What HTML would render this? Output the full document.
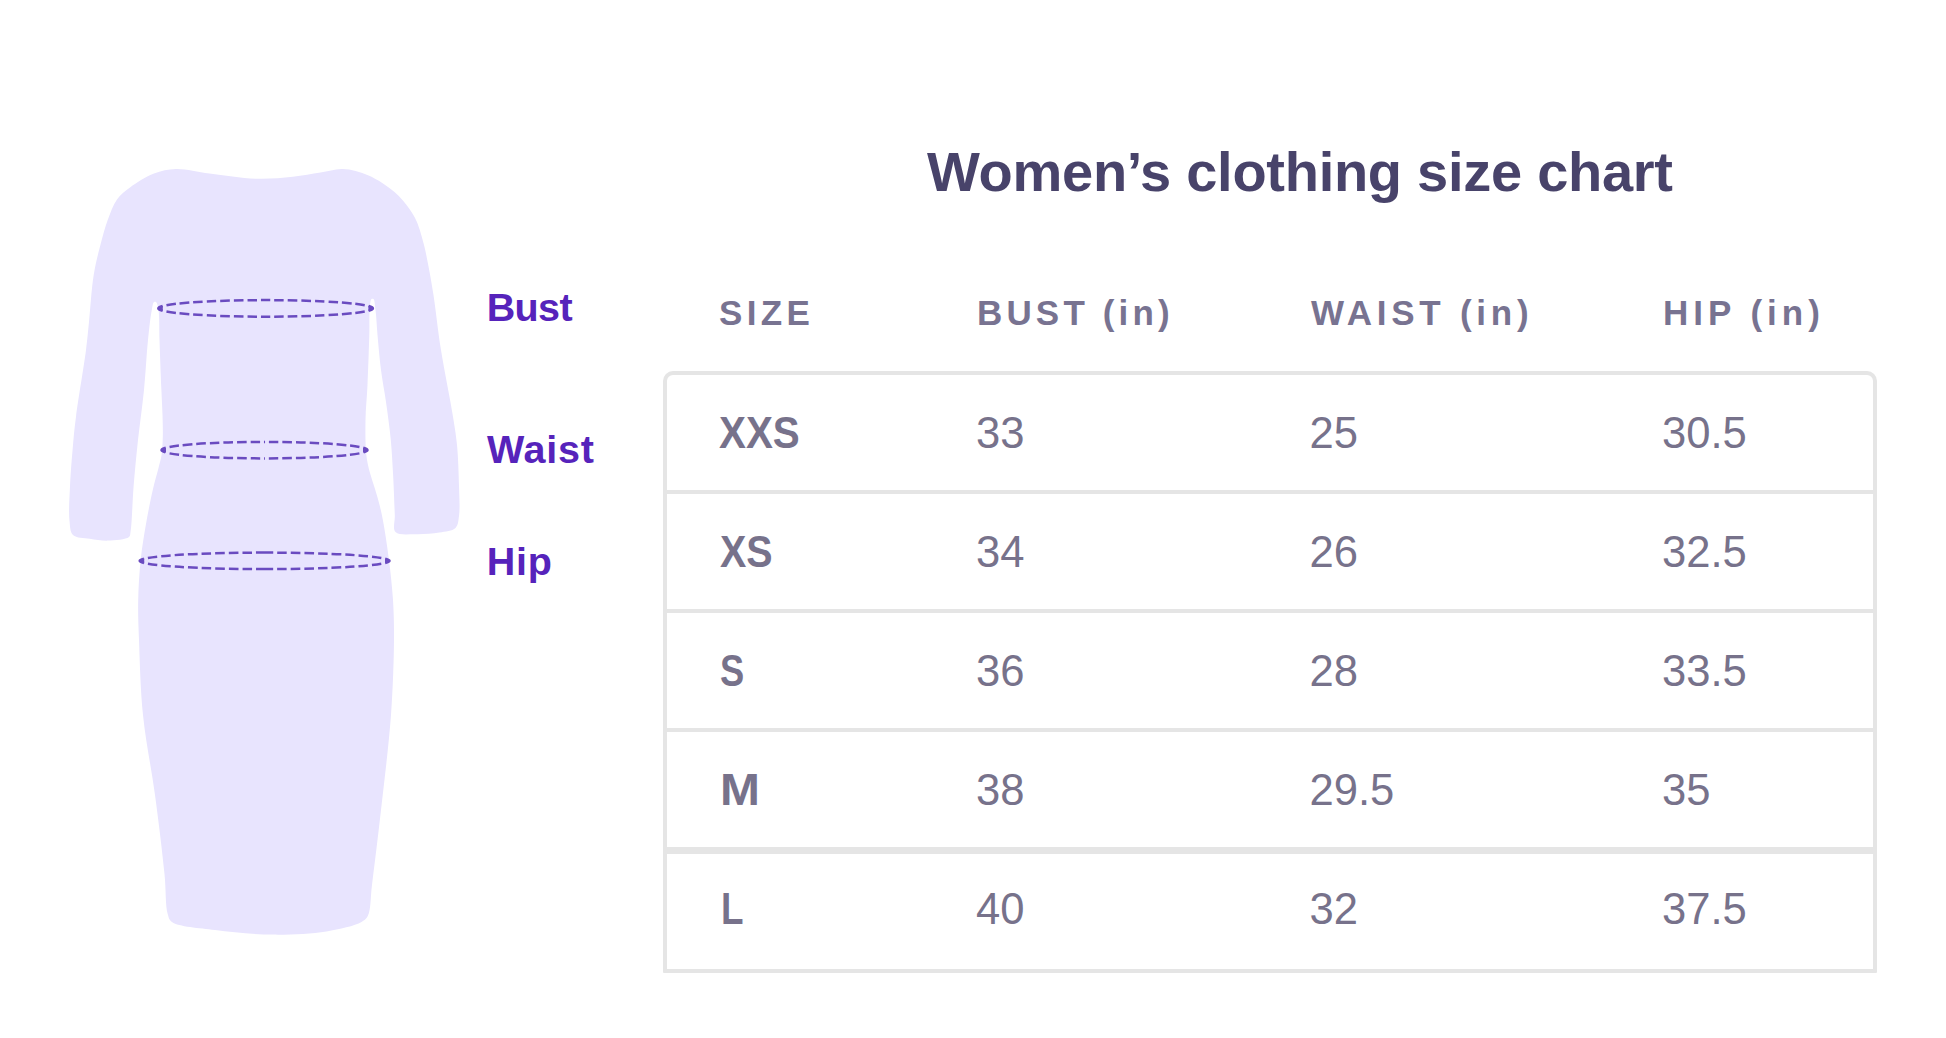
<!DOCTYPE html>
<html><head><meta charset="utf-8">
<style>
html,body{margin:0;padding:0;background:#fff;}
body{width:1946px;height:1038px;position:relative;overflow:hidden;font-family:"Liberation Sans",sans-serif;}
.t{position:absolute;white-space:nowrap;line-height:1;}
.title{font-size:56px;font-weight:bold;color:#48436a;letter-spacing:-0.27px;}
.hd{font-size:35px;font-weight:bold;color:#787391;letter-spacing:4px;}
.lb{font-size:39.5px;font-weight:bold;color:#5623bb;}
.c0{font-size:43.6px;font-weight:bold;color:#77728b;transform-origin:0 0;}
.cv{font-size:43.6px;font-weight:normal;color:#77728b;}
.box{position:absolute;left:663px;top:371px;width:1206px;height:594px;border:4px solid #e5e5e5;border-radius:10px 10px 1px 1px;}
.sep{position:absolute;left:667px;width:1206px;height:4px;background:#e5e5e5;}
svg{position:absolute;left:0;top:0;}
</style></head><body>
<svg width="600" height="1038" viewBox="0 0 600 1038">
<path d="M176.0,169.0 C186.0,168.7 197.4,172.0 209.5,173.5 C223.7,175.2 241.2,178.3 255.8,178.7 C268.8,179.1 281.4,178.0 292.8,176.8 C302.7,175.8 311.8,174.0 320.5,172.6 C328.3,171.4 335.0,168.7 342.7,169.0 C351.0,169.3 360.3,171.8 368.6,175.4 C377.6,179.3 387.4,185.9 394.5,192.0 C400.5,197.2 405.4,203.3 409.3,208.7 C412.5,213.1 414.5,216.5 416.7,221.6 C419.5,228.1 422.1,237.8 424.0,245.0 C425.6,251.0 426.3,255.3 427.6,261.8 C429.4,270.9 431.5,282.1 433.4,294.5 C435.9,310.5 437.9,330.7 441.0,350.0 C444.4,371.2 450.2,399.1 453.0,416.7 C454.8,428.1 456.0,434.7 457.0,445.0 C458.2,457.4 458.7,473.4 459.0,486.0 C459.3,496.8 460.1,508.3 459.0,516.0 C458.3,520.9 458.3,525.2 455.5,527.9 C452.3,531.1 445.3,531.4 439.4,532.5 C432.4,533.7 423.7,534.3 416.2,534.2 C409.1,534.1 398.9,535.6 395.5,532.0 C392.4,528.7 395.1,521.9 394.8,515.0 C394.4,504.4 393.8,487.6 393.1,474.7 C392.4,462.7 391.9,451.8 390.8,440.0 C389.6,427.6 387.7,414.1 386.0,402.0 C384.4,390.9 382.4,380.9 381.0,370.0 C379.5,358.6 378.5,345.7 377.5,335.0 C376.7,326.0 376.4,316.6 375.5,310.0 C374.9,305.6 374.8,300.1 373.5,299.0 C372.9,298.5 372.0,298.5 371.5,299.0 C370.2,300.1 370.1,305.6 369.7,310.0 C369.1,316.6 369.6,325.2 369.3,335.0 C368.9,348.8 368.2,369.8 367.5,385.0 C366.9,397.7 365.7,408.4 365.5,420.0 C365.3,431.6 365.3,445.2 366.3,454.7 C367.0,461.5 368.3,466.3 369.7,472.0 C371.2,477.7 373.3,483.3 375.0,489.0 C376.7,494.8 378.6,500.8 380.0,506.7 C381.4,512.5 382.4,517.2 383.6,524.0 C385.3,533.6 387.3,546.6 388.8,558.7 C390.5,571.8 392.1,586.3 393.0,600.0 C393.8,613.4 394.1,624.6 394.0,640.0 C393.8,661.1 392.9,688.6 391.0,715.0 C388.8,744.8 384.4,780.2 381.0,810.0 C378.0,836.5 374.4,865.5 372.0,885.0 C370.4,897.4 371.0,909.3 368.0,915.5 C366.3,918.9 364.9,920.0 361.5,922.0 C354.7,925.9 339.5,929.3 326.5,931.4 C310.6,934.0 290.8,934.8 272.5,934.6 C253.6,934.4 232.7,932.4 215.0,930.0 C199.6,928.0 178.6,926.9 172.0,922.0 C169.0,919.8 168.8,917.9 167.7,914.0 C165.3,905.9 166.1,889.6 164.5,874.0 C162.3,852.1 158.6,821.4 155.0,795.0 C151.4,768.4 145.7,741.3 143.0,715.0 C140.4,689.7 139.8,661.1 139.0,640.0 C138.4,624.6 137.9,613.4 138.2,600.0 C138.5,586.3 139.4,571.8 140.8,558.7 C142.1,546.6 144.0,535.6 146.0,524.0 C148.0,512.3 150.7,499.2 153.0,489.0 C154.8,481.1 157.0,474.2 158.5,468.0 C159.7,463.1 160.9,459.5 161.6,454.7 C162.4,449.3 162.6,443.2 162.8,437.0 C163.0,430.1 162.7,422.6 162.5,415.0 C162.3,406.9 161.8,399.8 161.4,390.0 C160.8,376.2 160.0,354.6 159.5,340.0 C159.1,328.7 159.6,316.8 158.5,310.0 C157.9,306.4 157.2,302.9 156.0,302.0 C155.4,301.6 154.6,301.6 154.0,302.0 C152.8,302.9 152.5,306.4 151.8,310.0 C150.4,316.8 149.2,328.7 148.0,340.0 C146.5,354.5 145.7,373.3 144.0,390.0 C142.3,406.7 139.8,423.7 138.0,440.0 C136.3,455.7 134.9,470.8 133.6,486.2 C132.4,501.5 131.9,524.5 130.5,532.0 C130.0,534.5 130.5,535.7 129.0,537.0 C126.0,539.6 114.9,540.3 108.2,540.6 C101.9,540.8 95.7,539.8 89.7,538.8 C84.0,537.9 76.3,538.3 73.0,535.0 C69.9,532.0 70.2,526.8 69.5,521.0 C68.5,512.0 69.5,498.3 70.0,486.2 C70.6,473.0 71.9,457.4 73.0,445.0 C73.9,434.7 74.5,428.1 76.0,416.7 C78.2,399.1 83.8,367.3 86.0,350.0 C87.4,339.0 87.8,333.3 88.9,323.0 C90.3,309.3 91.4,289.1 93.7,275.0 C95.5,263.8 97.9,254.5 100.4,245.0 C102.7,236.2 104.9,227.7 107.8,219.8 C110.5,212.5 113.0,205.0 117.0,199.4 C120.6,194.4 124.8,191.3 130.0,187.4 C136.6,182.6 145.9,176.6 154.0,173.5 C161.3,170.7 167.9,169.3 176.0,169.0Z" fill="#e8e4fe"/>
<g fill="none" stroke="#6a4bc0" stroke-width="2.5" stroke-dasharray="9.5 4" stroke-dashoffset="4.5">
<path d="M158.3,308.4 A107.3,8.3 0 0 1 265.6,300.1 M372.9,308.4 A107.3,8.3 0 0 0 265.6,300.1 M158.3,308.4 A107.3,8.3 0 0 0 265.6,316.7 M372.9,308.4 A107.3,8.3 0 0 1 265.6,316.7"/>
<path d="M161.5,450.2 A103,8.25 0 0 1 264.5,441.9 M367.5,450.2 A103,8.25 0 0 0 264.5,441.9 M161.5,450.2 A103,8.25 0 0 0 264.5,458.4 M367.5,450.2 A103,8.25 0 0 1 264.5,458.4"/>
<path d="M139.7,560.9 A124.9,8.25 0 0 1 264.6,552.6 M389.5,560.9 A124.9,8.25 0 0 0 264.6,552.6 M139.7,560.9 A124.9,8.25 0 0 0 264.6,569.1 M389.5,560.9 A124.9,8.25 0 0 1 264.6,569.1"/>
</g>
<g fill="#6a4bc0"><path d="M157.7,308.4 L162.8,305.8 L162.8,311.0Z M373.5,308.4 L368.4,305.8 L368.4,311.0Z"/><path d="M160.9,450.2 L166.0,447.6 L166.0,452.8Z M368.1,450.2 L363.0,447.6 L363.0,452.8Z"/><path d="M139.1,560.9 L144.2,558.3 L144.2,563.5Z M390.1,560.9 L385.0,558.3 L385.0,563.5Z"/></g>
</svg>
<div class="t lb" style="left:486.7px;top:288.3px;letter-spacing:-0.63px">Bust</div>
<div class="t lb" style="left:487px;top:430.3px;letter-spacing:0.78px">Waist</div>
<div class="t lb" style="left:486.7px;top:541.5px;letter-spacing:0.75px">Hip</div>
<div class="t title" style="left:927px;top:144.1px">Women’s clothing size chart</div>
<div class="t hd" style="left:719px;top:295.3px;letter-spacing:4.33px">SIZE</div>
<div class="t hd" style="left:977px;top:295.3px;letter-spacing:4.16px">BUST (in)</div>
<div class="t hd" style="left:1311px;top:295.3px;letter-spacing:4.73px">WAIST (in)</div>
<div class="t hd" style="left:1663px;top:295.3px;letter-spacing:5px">HIP (in)</div>
<div class="box"></div>
<div class="sep" style="top:490px"></div>
<div class="sep" style="top:609px"></div>
<div class="sep" style="top:728px"></div>
<div class="sep" style="top:847px;height:7px"></div>
<div class="t c0" style="left:719.1px;top:412.3px;transform:scaleX(0.926)">XXS</div>
<div class="t cv" style="left:976px;top:412.3px">33</div>
<div class="t cv" style="left:1309.5px;top:412.3px">25</div>
<div class="t cv" style="left:1662px;top:412.3px">30.5</div>
<div class="t c0" style="left:719.6px;top:531.3px;transform:scaleX(0.904)">XS</div>
<div class="t cv" style="left:976px;top:531.3px">34</div>
<div class="t cv" style="left:1309.5px;top:531.3px">26</div>
<div class="t cv" style="left:1662px;top:531.3px">32.5</div>
<div class="t c0" style="left:720.0px;top:650.3px;transform:scaleX(0.832)">S</div>
<div class="t cv" style="left:976px;top:650.3px">36</div>
<div class="t cv" style="left:1309.5px;top:650.3px">28</div>
<div class="t cv" style="left:1662px;top:650.3px">33.5</div>
<div class="t c0" style="left:720.1px;top:769.3px;transform:scaleX(1.1)">M</div>
<div class="t cv" style="left:976px;top:769.3px">38</div>
<div class="t cv" style="left:1309.5px;top:769.3px">29.5</div>
<div class="t cv" style="left:1662px;top:769.3px">35</div>
<div class="t c0" style="left:721.4px;top:888.3px;transform:scaleX(0.845)">L</div>
<div class="t cv" style="left:976px;top:888.3px">40</div>
<div class="t cv" style="left:1309.5px;top:888.3px">32</div>
<div class="t cv" style="left:1662px;top:888.3px">37.5</div>

</body></html>
